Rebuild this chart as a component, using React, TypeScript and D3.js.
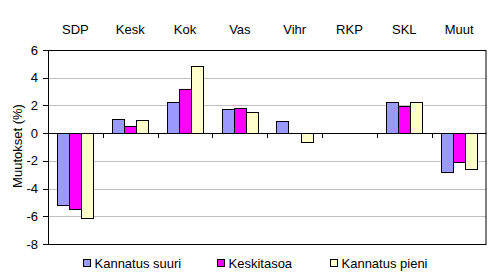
import React from "react";
import * as d3 from "d3";

const categories = ["SDP", "Kesk", "Kok", "Vas", "Vihr", "RKP", "SKL", "Muut"];
const seriesNames = ["Kannatus suuri", "Keskitasoa", "Kannatus pieni"];
const suuri = [-5.2, 1.0, 2.23, 1.72, 0.86, 0, 2.22, -2.82];
const keskitasoa = [-5.5, 0.5, 3.17, 1.8, 0, 0, 1.95, -2.1];
const pieni = [-6.15, 0.93, 4.83, 1.5, -0.66, 0, 2.22, -2.6];
const yTicks = [-8, -6, -4, -2, 0, 2, 4, 6];
const colors = ["#9999ff", "#ff00ff", "#ffffcc"];

const W = 493;
const H = 277;
const left = 48;
const right = 486.5;
const top = 50;
const bottom = 244;
const font = "'Liberation Sans', Arial, sans-serif";

export default function App() {
  const series = [suuri, keskitasoa, pieni];
  const x = d3.scaleBand<string>().domain(categories).range([left, right]).padding(0);
  const xi = d3
    .scaleBand<string>()
    .domain(seriesNames)
    .range([0, x.bandwidth()])
    .paddingInner(0)
    .paddingOuter(0.75);
  const y = d3.scaleLinear().domain([-8, 6]).range([bottom, top]);
  const y0 = y(0);

  return (
    <svg
      width={W}
      height={H}
      style={{ position: "absolute", left: 0, top: 0, background: "#fff" }}
      fontFamily={font}
    >
      <rect x={0} y={0} width={W} height={H} fill="#fff" />
      {yTicks.map((t) =>
        t === -8 || t === 6 || t === 0 ? null : (
          <line key={"g" + t} x1={left} x2={right} y1={Math.round(y(t)) + 0.5} y2={Math.round(y(t)) + 0.5} stroke="#c0c0c0" strokeWidth={1} />
        )
      )}
      {categories.map((c, ci) =>
        series.map((s, si) => {
          const v = s[ci];
          if (v === 0) return null;
          const bx = (x(c) as number) + (xi(seriesNames[si]) as number);
          const yTop = Math.min(y(v), y0);
          const h = Math.abs(y(v) - y0);
          return (
            <rect
              key={c + si}
              x={Math.round(bx) + 0.5}
              y={Math.round(yTop) + 0.5}
              width={Math.round(xi.bandwidth())}
              height={Math.round(h)}
              fill={colors[si]}
              stroke="#000"
              strokeWidth={1}
            />
          );
        })
      )}
      <rect
        x={left + 0.5}
        y={top + 0.5}
        width={right - left - 1}
        height={bottom - top}
        fill="none"
        stroke="#000"
        strokeWidth={1}
      />
      <line x1={left} x2={right} y1={Math.round(y0) + 0.5} y2={Math.round(y0) + 0.5} stroke="#000" />
      {categories.slice(1).map((c) => (
        <line
          key={"xt" + c}
          x1={Math.round(x(c) as number) + 0.5}
          x2={Math.round(x(c) as number) + 0.5}
          y1={Math.round(y0)}
          y2={Math.round(y0) + 5}
          stroke="#000"
        />
      ))}
      {yTicks.map((t) => (
        <g key={"yt" + t}>
          <line x1={left - 5} x2={left} y1={Math.round(y(t)) + 0.5} y2={Math.round(y(t)) + 0.5} stroke="#000" />
          <text x={38} y={y(t) + 4.5} textAnchor="end" fontSize={13} fill="#000">
            {t}
          </text>
        </g>
      ))}
      {categories.map((c) => (
        <text
          key={"cl" + c}
          x={(x(c) as number) + x.bandwidth() / 2}
          y={34}
          textAnchor="middle"
          fontSize={13}
          fill="#000"
        >
          {c}
        </text>
      ))}
      <text
        transform={`translate(22,146) rotate(-90)`}
        textAnchor="middle"
        fontSize={13}
        fill="#000"
      >
        Muutokset (%)
      </text>
      {seriesNames.map((n, i) => {
        const lx = [83.5, 217.5, 330.5][i];
        return (
          <g key={"lg" + n}>
            <rect x={lx} y={259.5} width={7} height={7} fill={colors[i]} stroke="#000" />
            <text x={lx + 11} y={268} fontSize={13} fill="#000">
              {n}
            </text>
          </g>
        );
      })}
    </svg>
  );
}
